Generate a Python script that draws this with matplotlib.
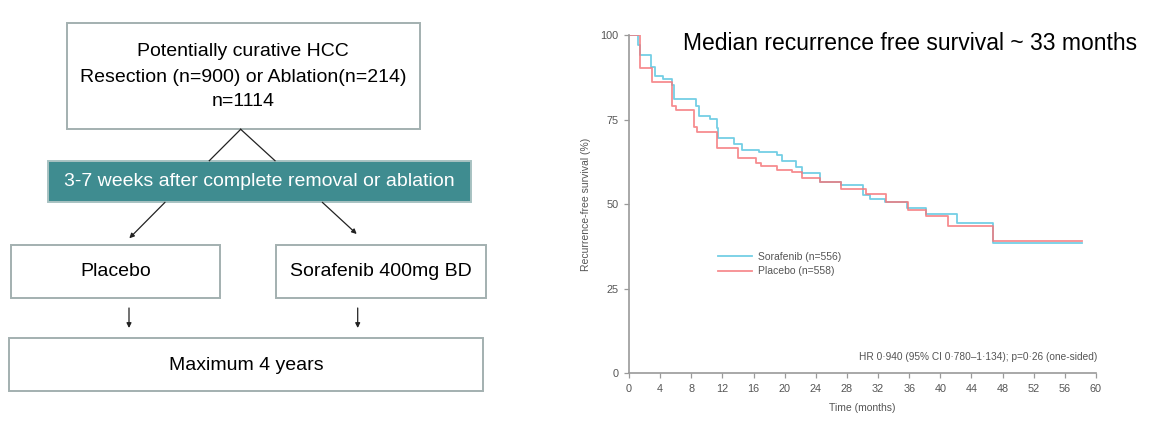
import numpy as np
import matplotlib
matplotlib.use("Agg")
import matplotlib.pyplot as plt
from matplotlib.patches import Rectangle

plt.rcParams['font.family'] = ['Liberation Sans', 'DejaVu Sans']

# flowchart texts
top_lines = ["Potentially curative HCC", "Resection (n=900) or Ablation(n=214)", "n=1114"]
mid_text = "3-7 weeks after complete removal or ablation"
arm_texts = ["Placebo", "Sorafenib 400mg BD"]
bottom_text = "Maximum 4 years"

# Kaplan-Meier steps (time of drop, new value)
sora_t = [0, 1.2, 1.35, 2.8, 3.3, 4.4, 5.55, 5.75, 8.55, 9.0, 10.4, 11.25, 11.45, 13.5, 14.5,
          16.75, 19.05, 19.6, 21.5, 22.2, 24.6, 27.3, 30.1, 31.0, 32.9, 35.7, 38.1, 42.2, 46.8, 58.2]
sora_v = [100, 97.0, 94.1, 90.6, 87.9, 86.9, 85.2, 81.1, 79.0, 76.1, 75.1, 72.4, 69.7, 67.8, 66.1,
          65.3, 64.4, 62.8, 61.1, 59.3, 56.4, 55.6, 52.7, 51.4, 50.5, 49.0, 47.0, 44.5, 38.4, 38.4]
plac_t = [0, 1.4, 3.0, 5.55, 6.05, 8.35, 8.8, 11.25, 13.95, 16.3, 16.9, 19.0, 21.0, 22.2, 24.6,
          27.3, 30.5, 33.0, 35.8, 38.1, 41.0, 46.8, 58.2]
plac_v = [100, 90.3, 86.1, 79.0, 77.8, 72.9, 71.4, 66.7, 63.6, 62.2, 61.3, 60.2, 59.5, 57.6, 56.4,
          54.4, 52.9, 50.5, 48.2, 46.5, 43.5, 39.0, 39.0]
legend_labels = ["Sorafenib (n=556)", "Placebo (n=558)"]
x_ticks = list(range(0, 61, 4))
y_ticks = [0, 25, 50, 75, 100]

W, H = 1164, 422
fig = plt.figure(figsize=(W / 100, H / 100), dpi=100)

# ---- flowchart, drawn in pixel coordinates ----
fa = fig.add_axes([0, 0, 1, 1])
fa.set_xlim(0, W)
fa.set_ylim(H, 0)
fa.axis('off')
edge = '#a3b0b0'
teal = '#3f8c90'

def box(x0, y0, x1, y1, fc='white', ec=edge):
    fa.add_patch(Rectangle((x0, y0), x1 - x0, y1 - y0, fc=fc, ec=ec, lw=1.4))

box(66.7, 22.7, 420, 129.3)
for i, s in enumerate(top_lines):
    fa.text(243, 52 + i * 25, s, ha='center', va='center', fontsize=14)
fa.plot([240.7, 209.3], [129.3, 160.7], color='#222222', lw=0.9)
fa.plot([240.7, 275], [129.3, 160.7], color='#222222', lw=0.9)

box(47.7, 161, 471, 202.3, fc=teal, ec='#a8c2c2')
fa.text(259, 182, mid_text, ha='center', va='center', fontsize=14, color='white')

arrow = dict(arrowstyle='-|>', color='#222222', lw=0.9, mutation_scale=7, shrinkA=0, shrinkB=0)
fa.annotate('', xy=(129.3, 238.3), xytext=(165, 202.3), arrowprops=arrow)
fa.annotate('', xy=(356.7, 234), xytext=(322.3, 202.3), arrowprops=arrow)

box(11, 245, 220, 297.7)
box(276, 245, 485.7, 297.7)
fa.text(115.5, 271.5, arm_texts[0], ha='center', va='center', fontsize=14)
fa.text(381, 271.5, arm_texts[1], ha='center', va='center', fontsize=14)
fa.annotate('', xy=(129, 328), xytext=(129, 308), arrowprops=arrow)
fa.annotate('', xy=(357.7, 328), xytext=(357.7, 308), arrowprops=arrow)

box(9, 337.7, 483.3, 391)
fa.text(246.7, 365.5, bottom_text, ha='center', va='center', fontsize=14)

# ---- survival curves ----
x0, x1, ytop, ybot = 629, 1096, 35, 373.3
ax = fig.add_axes([x0 / W, 1 - ybot / H, (x1 - x0) / W, (ybot - ytop) / H])
ax.step(sora_t, sora_v, where='post', color='#5cc6e0', lw=1.3, alpha=0.85, label=legend_labels[0])
ax.step(plac_t, plac_v, where='post', color='#f5787c', lw=1.3, alpha=0.85, label=legend_labels[1])
ax.set_xlim(0, 60)
ax.set_ylim(0, 100)
ax.set_xticks(x_ticks)
ax.set_yticks(y_ticks)
for side in ['top', 'right']:
    ax.spines[side].set_visible(False)
for side in ['left', 'bottom']:
    ax.spines[side].set_color('#9a9a9a')
    ax.spines[side].set_linewidth(1.2)
ax.tick_params(colors='#9a9a9a', labelcolor='#555555', labelsize=7.8, length=3.5, width=0.9, pad=4)
ax.set_xlabel("Time (months)", fontsize=7.5, color='#555555', labelpad=7)
ax.set_ylabel("Recurrence-free survival (%)", fontsize=7.5, color='#555555', labelpad=7)
ax.legend(loc='upper left', bbox_to_anchor=(0.18, 0.375), frameon=False, fontsize=7.5,
          handlelength=3.2, labelcolor='#555555', borderpad=0, handletextpad=0.6, labelspacing=0.45)
ax.text(60.2, 4.8, "HR 0\u00b7940 (95% CI 0\u00b7780\u20131\u00b7134); p=0\u00b726 (one-sided)",
        ha='right', va='center', fontsize=7.3, color='#555555')

fig.text(910 / W, 1 - 44 / H, "Median recurrence free survival ~ 33 months",
         ha='center', va='center', fontsize=16.5, color='black')

fig.savefig("out.png", dpi=100)
